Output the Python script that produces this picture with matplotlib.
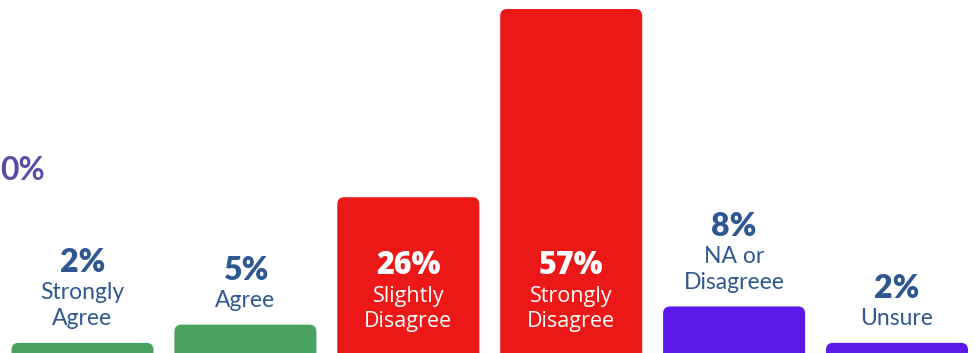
import matplotlib
matplotlib.use("Agg")
import matplotlib.pyplot as plt
from matplotlib.patches import FancyBboxPatch

categories = [["Strongly", "Agree"], ["Agree"], ["Slightly", "Disagree"],
              ["Strongly", "Disagree"], ["NA or", "Disagreee"], ["Unsure"]]
values = [2, 5, 26, 57, 8, 2]
colors = ["#4ba260", "#4ba260", "#ec1818", "#ec1818", "#5c18e8", "#5c18e8"]
value_labels = ["2%", "5%", "26%", "57%", "8%", "2%"]
side_label = "0%"

W, H, DPI = 975, 353, 100
fig = plt.figure(figsize=(W / DPI, H / DPI), dpi=DPI)
ax = fig.add_axes([0, 0, 1, 1])
ax.set_axis_off()

px_x = 162.9      # pixels per category step
px_y = 6.07       # pixels per percent
ax.set_xlim(-82.5 / px_x, (W - 82.5) / px_x)
ax.set_ylim(2 / px_y, (H + 2) / px_y)

x = list(range(len(values)))
bars = ax.bar(x, values, width=142 / px_x, color=colors)

r_x = 7 / px_x
aspect = (7 / px_y) / r_x
ext = 12 / px_y
for b in bars:
    b.set_visible(False)
    p = FancyBboxPatch((b.get_x(), b.get_y() - ext), b.get_width(), b.get_height() + ext,
                       boxstyle=f"round,pad=0,rounding_size={r_x}",
                       mutation_aspect=aspect, facecolor=b.get_facecolor(),
                       edgecolor="none")
    ax.add_patch(p)

blue = "#2f5791"
pt = 72 / DPI
for xi, v, lab, cat in zip(x, values, value_labels, categories):
    lines = list(reversed(cat))
    if v > 20:
        for k, line in enumerate(lines):
            ax.annotate(line, xy=(xi, 0), xytext=(0, (34 + 24.5 * k) * pt),
                        textcoords="offset points", ha="center", va="center",
                        color="white", fontsize=15.5, family="Open Sans",
                        annotation_clip=False)
        ax.annotate(lab, xy=(xi, 0), xytext=(0, (34 + 24.5 * (len(lines) - 1) + 30) * pt),
                    textcoords="offset points", ha="center", va="center",
                    color="white", fontsize=22, fontweight="heavy", family="Open Sans",
                    annotation_clip=False)
    else:
        for k, line in enumerate(lines):
            ax.annotate(line, xy=(xi, v), xytext=(0, (24 + 26 * k) * pt),
                        textcoords="offset points", ha="center", va="center",
                        color=blue, fontsize=16.5, family="Lato",
                        annotation_clip=False)
        ax.annotate(lab, xy=(xi, v), xytext=(0, (24 + 26 * (len(lines) - 1) + 30) * pt),
                    textcoords="offset points", ha="center", va="center",
                    color=blue, fontsize=23, fontweight="heavy", family="Lato",
                    annotation_clip=False)

fig.text(0 / W, 1 - 170 / H, side_label, ha="left", va="center",
         color="#5b4ba8", fontsize=23, fontweight="bold", family="Lato")

fig.savefig("out.png", dpi=DPI)
